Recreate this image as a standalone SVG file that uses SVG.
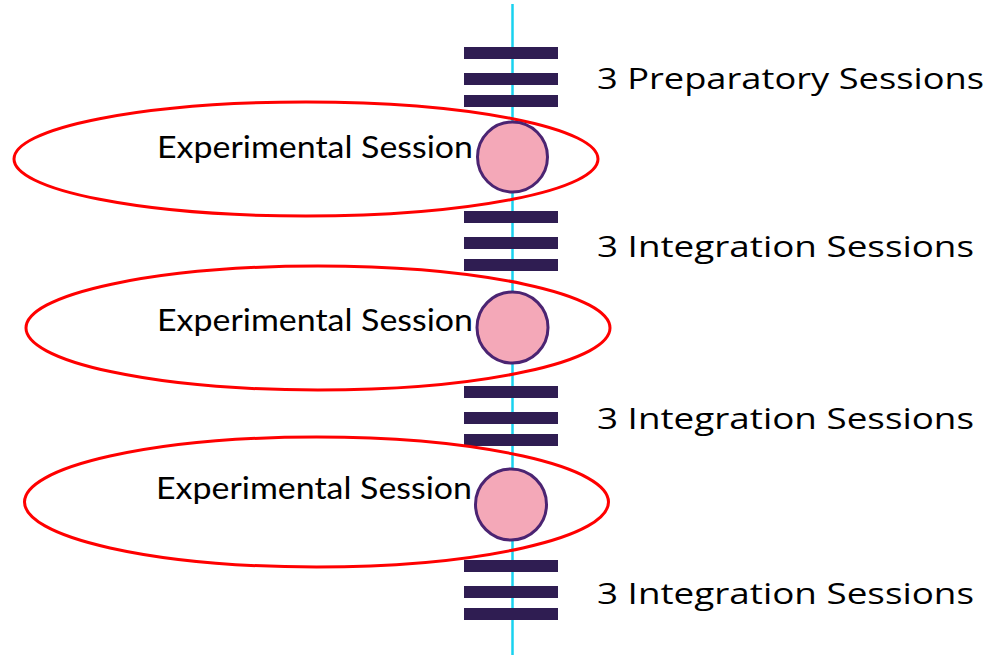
<svg xmlns="http://www.w3.org/2000/svg" width="998" height="656" viewBox="0 0 998 656">
<style>
.bar{fill:#2f1d52}
.dot{fill:#f4a8b8;stroke:#4b2472;stroke-width:3}
.ring{fill:none;stroke:#ff0000;stroke-width:3}
.exp{font-family:Lato,"Liberation Sans",sans-serif;font-size:31px;fill:#000}
.lbl{font-family:"Open Sans","Liberation Sans",sans-serif;font-size:30px;fill:#000}
.axis{stroke:#19d2ef;stroke-width:2.5;fill:none}
</style>
<rect width="998" height="656" fill="#fff"/>
<g id="connectors">
<line class="axis" x1="512.5" y1="4" x2="512.5" y2="655"/>
</g>
<g id="prep">
<rect class="bar" x="464" y="47" width="94" height="12"/>
<rect class="bar" x="464" y="73" width="94" height="12"/>
<rect class="bar" x="464" y="95" width="94" height="12"/>
<text class="lbl" x="597" y="89" textLength="387" lengthAdjust="spacingAndGlyphs">3 Preparatory Sessions</text>
</g>
<g id="exp1">
<ellipse class="ring" cx="306" cy="159" rx="292" ry="57"/>
<circle class="dot" cx="512.5" cy="157" r="35"/>
<text class="exp" x="157" y="158" textLength="316" lengthAdjust="spacingAndGlyphs">Experimental Session</text>
</g>
<g id="int1">
<rect class="bar" x="464" y="211" width="94" height="12"/>
<rect class="bar" x="464" y="237" width="94" height="12"/>
<rect class="bar" x="464" y="259" width="94" height="12"/>
<text class="lbl" x="597" y="257" textLength="377" lengthAdjust="spacingAndGlyphs">3 Integration Sessions</text>
</g>
<g id="exp2">
<ellipse class="ring" cx="318" cy="328" rx="292" ry="62"/>
<circle class="dot" cx="512.5" cy="327.5" r="35.5"/>
<text class="exp" x="157" y="331" textLength="316" lengthAdjust="spacingAndGlyphs">Experimental Session</text>
</g>
<g id="int2">
<rect class="bar" x="464" y="386" width="94" height="12"/>
<rect class="bar" x="464" y="412" width="94" height="12"/>
<rect class="bar" x="464" y="434" width="94" height="12"/>
<text class="lbl" x="597" y="429" textLength="377" lengthAdjust="spacingAndGlyphs">3 Integration Sessions</text>
</g>
<g id="exp3">
<ellipse class="ring" cx="316.5" cy="502" rx="292" ry="65"/>
<circle class="dot" cx="511" cy="504.5" r="35.5"/>
<text class="exp" x="156" y="499" textLength="316" lengthAdjust="spacingAndGlyphs">Experimental Session</text>
</g>
<g id="int3">
<rect class="bar" x="464" y="560" width="94" height="12"/>
<rect class="bar" x="464" y="586" width="94" height="12"/>
<rect class="bar" x="464" y="608" width="94" height="12"/>
<text class="lbl" x="597" y="604" textLength="377" lengthAdjust="spacingAndGlyphs">3 Integration Sessions</text>
</g>
</svg>
